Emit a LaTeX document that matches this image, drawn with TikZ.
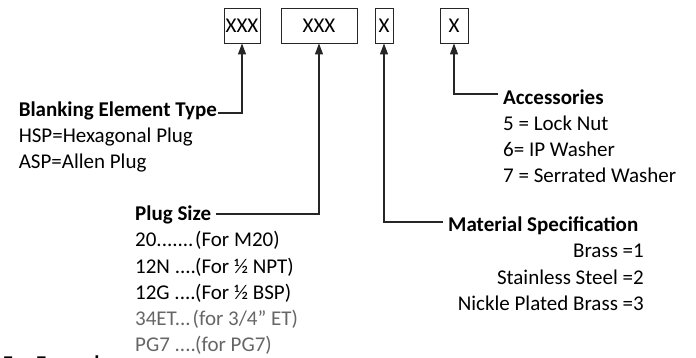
\documentclass[tikz,border=0pt]{standalone}
\usepackage{fontspec}
\setmainfont{Carlito}
\usetikzlibrary{arrows.meta,calc}
\begin{document}
\begin{tikzpicture}[x=1pt,y=-1pt,
  txt/.style={inner sep=0pt, font=\fontsize{21}{26}\selectfont, text=black},
  bld/.style={inner sep=0pt, font=\fontsize{21}{26}\selectfont\bfseries, text=black},
  gry/.style={txt, text=black!60},
  codebox/.style={draw=black!85, line width=0.9pt, minimum height=35pt, inner sep=0pt, font=\fontsize{21}{26}\selectfont},
  conn/.style={draw=black!85, line width=1.1pt, -{Triangle[width=8pt,length=11pt]}},
]
\useasboundingbox (0,0) rectangle (696,358);
% code boxes
\node[codebox, minimum width=36pt] (b1) at (242,25.5) {XXX};
\node[codebox, minimum width=76pt] (b2) at (319,25.5) {XXX};
\node[codebox, minimum width=18pt] (b3) at (384,25.5) {X};
\node[codebox, minimum width=28pt] (b4) at (454,25.5) {X};
% blanking element type
\node[bld, anchor=base east] (bt) at (217,117) {Blanking Element Type};
\node[txt, anchor=base west] (bt1) at ($(bt.base west)+(0,26)$) {HSP=Hexagonal Plug};
\node[txt, anchor=base west] (bt2) at ($(bt.base west)+(0,52)$) {ASP=Allen Plug};
% plug size
\node[bld, anchor=base west] (ps) at (135,221) {Plug Size};
\node[txt, anchor=base west] (p1a) at (135,247) {20.......};
\node[txt, anchor=base west] (p1b) at (195,247) {(For M20)};
\node[txt, anchor=base west] (p2a) at (135,273) {12N ....};
\node[txt, anchor=base west] (p2b) at (195,273) {(For ½ NPT)};
\node[txt, anchor=base west] (p3a) at (135,299) {12G ....};
\node[txt, anchor=base west] (p3b) at (195,299) {(For ½ BSP)};
\node[gry, anchor=base west] (p4a) at (135,325) {34ET...};
\node[gry, anchor=base west] (p4b) at ($(p4a.base east)+(1.5,0)$) {(for 3/4” ET)};
\node[gry, anchor=base west] (p5a) at (135,351) {PG7 ....};
\node[gry, anchor=base west] (p5b) at (195,351) {(for PG7)};
% for example (cut at bottom)
\node[bld, anchor=base west] (fe) at (3,370) {For Example};
% material specification
\node[bld, anchor=base west] (ms) at (448,232) {Material Specification};
\node[txt, anchor=base east] (m1) at (644,258) {Brass =1};
\node[txt, anchor=base east] (m2) at (644,284) {Stainless Steel =2};
\node[txt, anchor=base east] (m3) at (644,310) {Nickle Plated Brass =3};
% accessories
\node[bld, anchor=base west] (ac) at (503,105) {Accessories};
\node[txt, anchor=base west] (a1) at (503,131) {5 = Lock Nut};
\node[txt, anchor=base west] (a2) at (503,157) {6= IP Washer};
\node[txt, anchor=base west] (a3) at (503,183) {7 = Serrated Washer};
% connectors
\draw[conn] ($(bt.base east)+(1,-4)$) -| (b1.south);
\draw[conn] ($(ps.base east)+(5,-7)$) -| (b2.south);
\draw[conn] ($(ms.base west)+(-5,-10)$) -| (b3.south);
\draw[conn] ($(ac.base west)+(-5,-11)$) -| (b4.south);
\end{tikzpicture}
\end{document}
